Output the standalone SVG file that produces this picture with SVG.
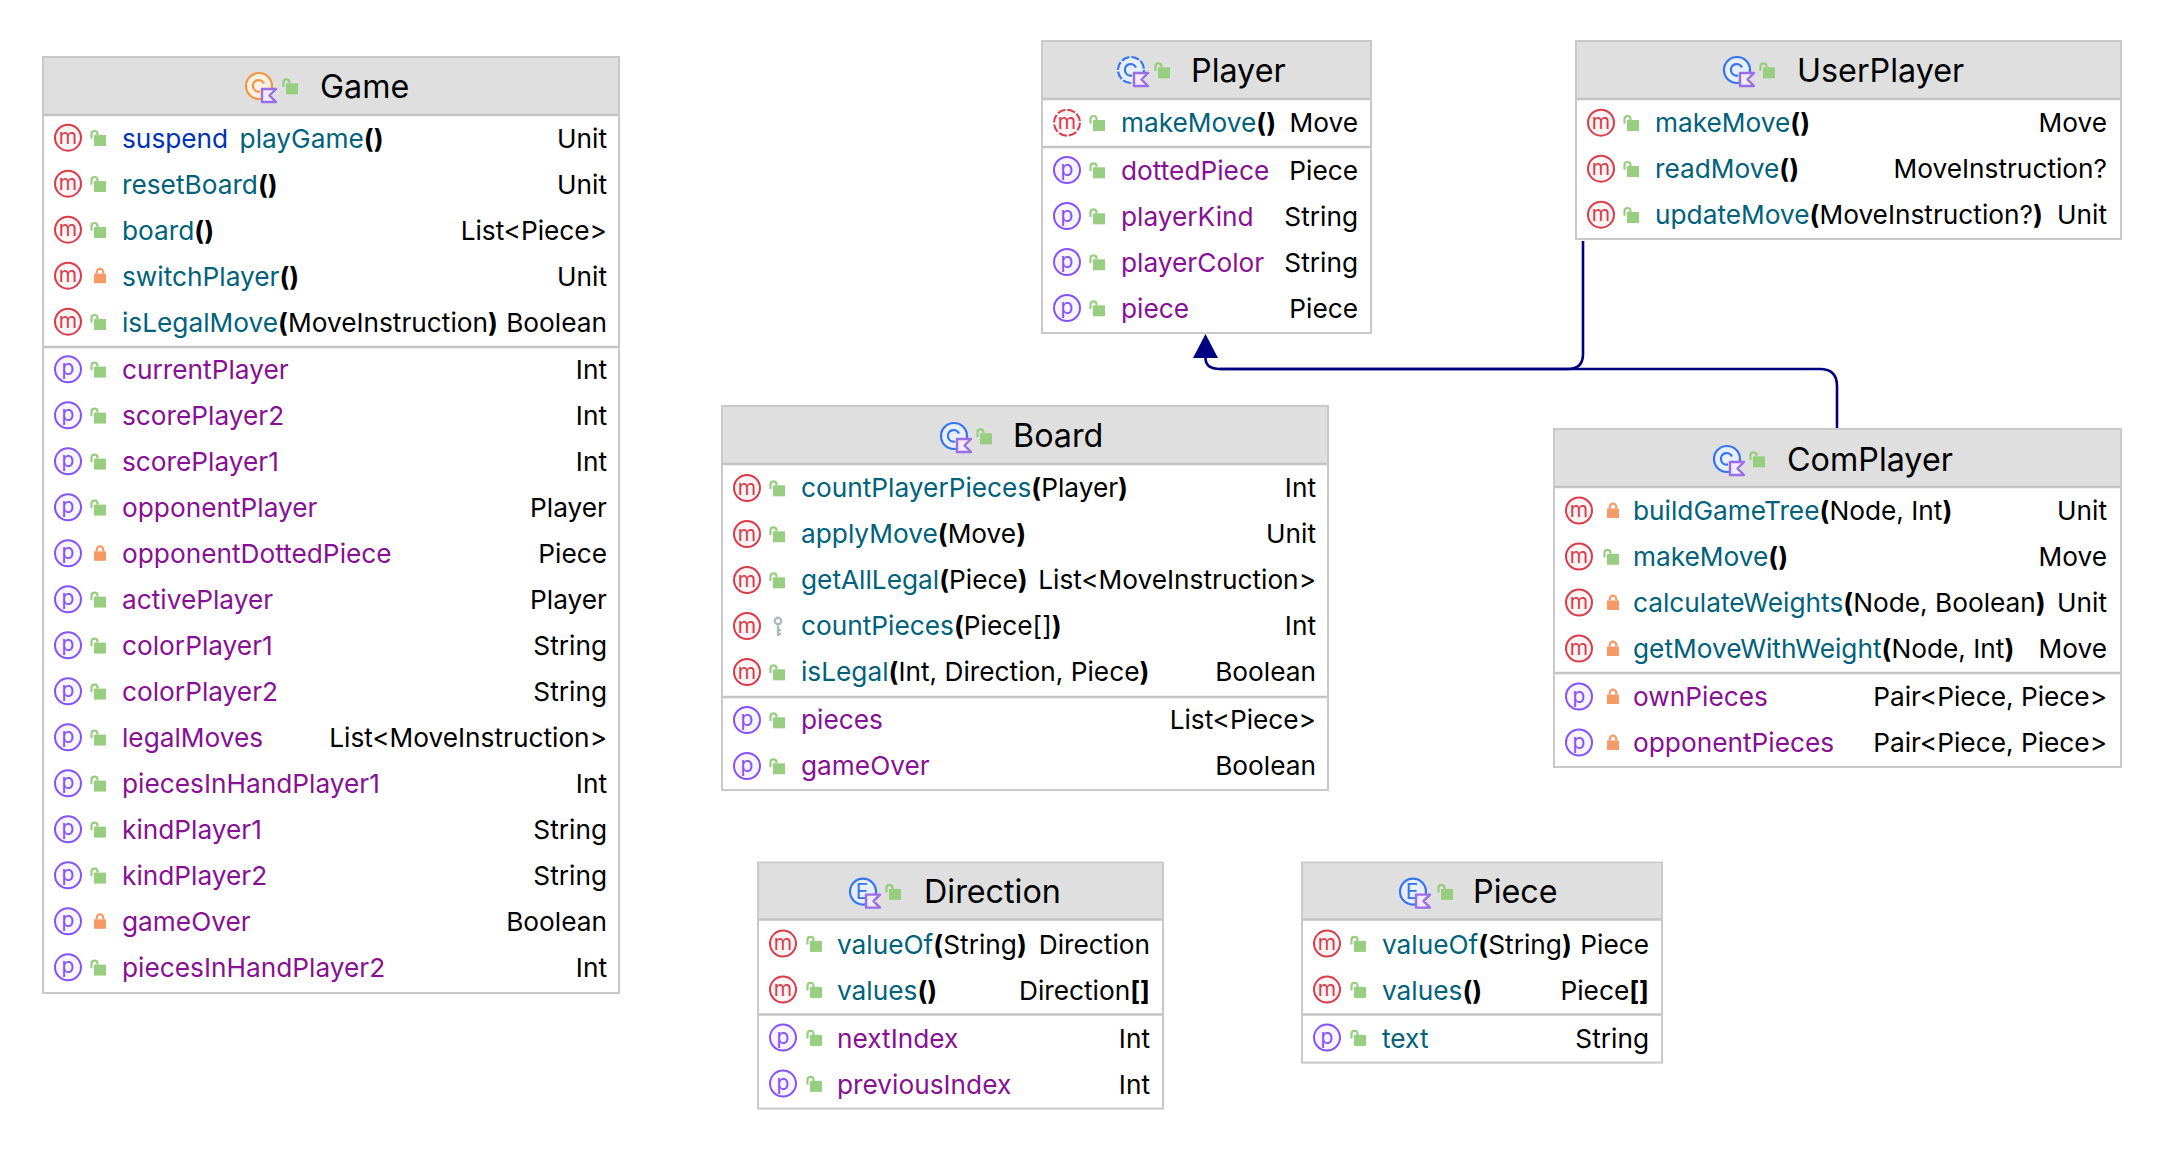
<svg xmlns="http://www.w3.org/2000/svg" xmlns:xlink="http://www.w3.org/1999/xlink" width="2162" height="1152" viewBox="0 0 2162 1152">
<style>
text{font-family:Inter,"Liberation Sans",sans-serif;font-size:26.25px;fill:#000}
.t{font-size:32.3px}
.n{fill:#00627A}.p{fill:#871094}.k{fill:#0033B3}
.b{font-weight:700}
.r{text-anchor:end}
.box{fill:#fff;stroke:#C9C9C9;stroke-width:2}
.hd{fill:#DFDFDF}
.ln{stroke:#C4C4C4;stroke-width:2.5}
.ic{font-size:21px;text-anchor:middle}
.con{fill:none;stroke:#000080;stroke-width:2.6}
</style>
<defs>
<g id="m"><circle r="13" fill="#FFF5F5" stroke="#DB3B4B" stroke-width="2"/><text class="ic" y="6.5" style="fill:#DB3B4B">m</text></g>
<g id="ma"><circle r="13" fill="#FFF5F5" stroke="#DB3B4B" stroke-width="2" stroke-dasharray="8.2 2"/><text class="ic" y="6.5" style="fill:#DB3B4B">m</text></g>
<g id="pr"><circle r="13" fill="#F8F5FF" stroke="#8452FF" stroke-width="2"/><text class="ic" y="6" style="fill:#8452FF">p</text></g>
<g id="lo"><rect x="-4" y="-2.7" width="12" height="11" fill="#97CE7F"/><path d="M-6.500 1V-3.700a3 3 0 0 1 6 0v1" fill="none" stroke="#97CE7F" stroke-width="2.200"/></g>
<g id="lc"><rect x="-4" y="-2" width="12" height="9.5" fill="#F79A66"/><path d="M-1.200-2V-3.700a3.200 3.200 0 0 1 6.400 0V-2" fill="none" stroke="#F79A66" stroke-width="2.200"/></g>
<g id="ky"><circle cx="1" cy="-5" r="3.2" fill="none" stroke="#AEB9C0" stroke-width="2.4"/><path d="M1-2V10M1 4h3M1 8h3" fill="none" stroke="#AEB9C0" stroke-width="2.4"/></g>
<g id="kb"><path d="M3 3H17L10.500 9.500 17 16H3Z" fill="#F3ECFF" stroke="#9B6EE8" stroke-width="2.4" stroke-linejoin="round"/></g>
<g id="cg"><circle r="13" fill="#FDF1E4" stroke="#F2963F" stroke-width="2.2"/><path d="M5-2.500A5.800 5.800 0 1 0 1 5.500" fill="none" stroke="#F2963F" stroke-width="2.2"/><use href="#kb"/></g>
<g id="cb"><circle r="13" fill="#E7EFFD" stroke="#3574F0" stroke-width="2.2"/><path d="M5-2.500A5.800 5.800 0 1 0 1 5.500" fill="none" stroke="#3574F0" stroke-width="2.2"/><use href="#kb"/></g>
<g id="cd"><circle r="13" fill="#E7EFFD" stroke="#3574F0" stroke-width="2.2" stroke-dasharray="8.2 2"/><path d="M5-2.500A5.800 5.800 0 1 0 1 5.500" fill="none" stroke="#3574F0" stroke-width="2.2"/><use href="#kb"/></g>
<g id="ce"><circle r="13" fill="#E7EFFD" stroke="#3574F0" stroke-width="2.2"/><text class="ic" x="-1" y="7" style="fill:#3574F0">E</text><use href="#kb"/></g>
</defs>

<g id="connectors">
<path class="con" d="M1583 241V354Q1583 369 1568 369H1220Q1205.500 369 1205.500 358"/>
<path class="con" d="M1837 428V386Q1837 369 1820 369H1220"/>
<path d="M1205.500 334L1218 358H1193Z" fill="#000080"/>
</g>

<g id="Game">
<rect class="box" x="43" y="57" width="576" height="936"/><rect class="hd" x="44" y="58" width="574" height="57"/><path class="ln" d="M44 115H618M44 347H618"/>
<use href="#cg" x="259" y="86"/><use href="#lo" x="290" y="86"/><text class="t" x="320" y="97.800">Game</text>
<use href="#m" x="68" y="137.700"/><use href="#lo" x="98" y="137.700"/><text x="122" y="148"><tspan class="k">suspend </tspan><tspan class="n" dx="4">playGame</tspan><tspan class="b">()</tspan></text><text class="r" x="607" y="148">Unit</text>
<use href="#m" x="68" y="183.700"/><use href="#lo" x="98" y="183.700"/><text x="122" y="194"><tspan class="n">resetBoard</tspan><tspan class="b">()</tspan></text><text class="r" x="607" y="194">Unit</text>
<use href="#m" x="68" y="229.700"/><use href="#lo" x="98" y="229.700"/><text x="122" y="240"><tspan class="n">board</tspan><tspan class="b">()</tspan></text><text class="r" x="607" y="240">List&lt;Piece&gt;</text>
<use href="#m" x="68" y="275.700"/><use href="#lc" x="98" y="275.700"/><text x="122" y="286"><tspan class="n">switchPlayer</tspan><tspan class="b">()</tspan></text><text class="r" x="607" y="286">Unit</text>
<use href="#m" x="68" y="321.700"/><use href="#lo" x="98" y="321.700"/><text x="122" y="332"><tspan class="n">isLegalMove</tspan><tspan class="b">(</tspan>MoveInstruction<tspan class="b">)</tspan></text><text class="r" x="607" y="332">Boolean</text>
<use href="#pr" x="68" y="369.300"/><use href="#lo" x="98" y="369.300"/><text class="p" x="122" y="379">currentPlayer</text><text class="r" x="607" y="379">Int</text>
<use href="#pr" x="68" y="415.300"/><use href="#lo" x="98" y="415.300"/><text class="p" x="122" y="425">scorePlayer2</text><text class="r" x="607" y="425">Int</text>
<use href="#pr" x="68" y="461.300"/><use href="#lo" x="98" y="461.300"/><text class="p" x="122" y="471">scorePlayer1</text><text class="r" x="607" y="471">Int</text>
<use href="#pr" x="68" y="507.300"/><use href="#lo" x="98" y="507.300"/><text class="p" x="122" y="517">opponentPlayer</text><text class="r" x="607" y="517">Player</text>
<use href="#pr" x="68" y="553.300"/><use href="#lc" x="98" y="553.300"/><text class="p" x="122" y="563">opponentDottedPiece</text><text class="r" x="607" y="563">Piece</text>
<use href="#pr" x="68" y="599.300"/><use href="#lo" x="98" y="599.300"/><text class="p" x="122" y="609">activePlayer</text><text class="r" x="607" y="609">Player</text>
<use href="#pr" x="68" y="645.300"/><use href="#lo" x="98" y="645.300"/><text class="p" x="122" y="655">colorPlayer1</text><text class="r" x="607" y="655">String</text>
<use href="#pr" x="68" y="691.300"/><use href="#lo" x="98" y="691.300"/><text class="p" x="122" y="701">colorPlayer2</text><text class="r" x="607" y="701">String</text>
<use href="#pr" x="68" y="737.300"/><use href="#lo" x="98" y="737.300"/><text class="p" x="122" y="747">legalMoves</text><text class="r" x="607" y="747">List&lt;MoveInstruction&gt;</text>
<use href="#pr" x="68" y="783.300"/><use href="#lo" x="98" y="783.300"/><text class="p" x="122" y="793">piecesInHandPlayer1</text><text class="r" x="607" y="793">Int</text>
<use href="#pr" x="68" y="829.300"/><use href="#lo" x="98" y="829.300"/><text class="p" x="122" y="839">kindPlayer1</text><text class="r" x="607" y="839">String</text>
<use href="#pr" x="68" y="875.300"/><use href="#lo" x="98" y="875.300"/><text class="p" x="122" y="885">kindPlayer2</text><text class="r" x="607" y="885">String</text>
<use href="#pr" x="68" y="921.300"/><use href="#lc" x="98" y="921.300"/><text class="p" x="122" y="931">gameOver</text><text class="r" x="607" y="931">Boolean</text>
<use href="#pr" x="68" y="967.300"/><use href="#lo" x="98" y="967.300"/><text class="p" x="122" y="977">piecesInHandPlayer2</text><text class="r" x="607" y="977">Int</text>
</g>

<g id="Player">
<rect class="box" x="1042" y="41" width="329" height="292"/><rect class="hd" x="1043" y="42" width="327" height="57"/><path class="ln" d="M1043 99H1370M1043 147H1370"/>
<use href="#cd" x="1131" y="70"/><use href="#lo" x="1162" y="70"/><text class="t" x="1191" y="81.700">Player</text>
<use href="#ma" x="1067" y="122.700"/><use href="#lo" x="1097" y="122.700"/><text x="1121" y="132.300"><tspan class="n">makeMove</tspan><tspan class="b">()</tspan></text><text class="r" x="1358" y="132.300">Move</text>
<use href="#pr" x="1067" y="170"/><use href="#lo" x="1097" y="170"/><text class="p" x="1121" y="179.600">dottedPiece</text><text class="r" x="1358" y="179.600">Piece</text>
<use href="#pr" x="1067" y="216"/><use href="#lo" x="1097" y="216"/><text class="p" x="1121" y="225.600">playerKind</text><text class="r" x="1358" y="225.600">String</text>
<use href="#pr" x="1067" y="262"/><use href="#lo" x="1097" y="262"/><text class="p" x="1121" y="271.600">playerColor</text><text class="r" x="1358" y="271.600">String</text>
<use href="#pr" x="1067" y="308"/><use href="#lo" x="1097" y="308"/><text class="p" x="1121" y="317.600">piece</text><text class="r" x="1358" y="317.600">Piece</text>
</g>

<g id="UserPlayer">
<rect class="box" x="1576" y="41" width="545" height="198"/><rect class="hd" x="1577" y="42" width="543" height="57"/><path class="ln" d="M1577 99H2120"/>
<use href="#cb" x="1737" y="70"/><use href="#lo" x="1767" y="70"/><text class="t" x="1797" y="81.700">UserPlayer</text>
<use href="#m" x="1601" y="122.700"/><use href="#lo" x="1631" y="122.700"/><text x="1655" y="132.300"><tspan class="n">makeMove</tspan><tspan class="b">()</tspan></text><text class="r" x="2107" y="132.300">Move</text>
<use href="#m" x="1601" y="168.700"/><use href="#lo" x="1631" y="168.700"/><text x="1655" y="178.300"><tspan class="n">readMove</tspan><tspan class="b">()</tspan></text><text class="r" x="2107" y="178.300">MoveInstruction?</text>
<use href="#m" x="1601" y="214.700"/><use href="#lo" x="1631" y="214.700"/><text x="1655" y="224.300"><tspan class="n">updateMove</tspan><tspan class="b">(</tspan>MoveInstruction?<tspan class="b">)</tspan></text><text class="r" x="2107" y="224.300">Unit</text>
</g>

<g id="ComPlayer">
<rect class="box" x="1554" y="429" width="567" height="338"/><rect class="hd" x="1555" y="430" width="565" height="57"/><path class="ln" d="M1555 487H2120M1555 673H2120"/>
<use href="#cb" x="1727" y="459"/><use href="#lo" x="1757" y="459"/><text class="t" x="1787" y="470.700">ComPlayer</text>
<use href="#m" x="1579" y="510.500"/><use href="#lc" x="1611" y="510.500"/><text x="1633" y="520.100"><tspan class="n">buildGameTree</tspan><tspan class="b">(</tspan>Node, Int<tspan class="b">)</tspan></text><text class="r" x="2107" y="520.100">Unit</text>
<use href="#m" x="1579" y="556.500"/><use href="#lo" x="1611" y="556.500"/><text x="1633" y="566.100"><tspan class="n">makeMove</tspan><tspan class="b">()</tspan></text><text class="r" x="2107" y="566.100">Move</text>
<use href="#m" x="1579" y="602.500"/><use href="#lc" x="1611" y="602.500"/><text x="1633" y="612.100"><tspan class="n">calculateWeights</tspan><tspan class="b">(</tspan>Node, Boolean<tspan class="b">)</tspan></text><text class="r" x="2107" y="612.100">Unit</text>
<use href="#m" x="1579" y="648.500"/><use href="#lc" x="1611" y="648.500"/><text x="1633" y="658.100"><tspan class="n">getMoveWithWeight</tspan><tspan class="b">(</tspan>Node, Int<tspan class="b">)</tspan></text><text class="r" x="2107" y="658.100">Move</text>
<use href="#pr" x="1579" y="696.500"/><use href="#lc" x="1611" y="696.500"/><text class="p" x="1633" y="706.100">ownPieces</text><text class="r" x="2107" y="706.100">Pair&lt;Piece, Piece&gt;</text>
<use href="#pr" x="1579" y="742.500"/><use href="#lc" x="1611" y="742.500"/><text class="p" x="1633" y="752.100">opponentPieces</text><text class="r" x="2107" y="752.100">Pair&lt;Piece, Piece&gt;</text>
</g>

<g id="Board">
<rect class="box" x="722" y="406" width="606" height="384"/><rect class="hd" x="723" y="407" width="604" height="57"/><path class="ln" d="M723 464H1327M723 697H1327"/>
<use href="#cb" x="954" y="436"/><use href="#lo" x="984" y="436"/><text class="t" x="1013" y="447.200">Board</text>
<use href="#m" x="747" y="488"/><use href="#lo" x="777" y="488"/><text x="801" y="497.300"><tspan class="n">countPlayerPieces</tspan><tspan class="b">(</tspan>Player<tspan class="b">)</tspan></text><text class="r" x="1316" y="497.300">Int</text>
<use href="#m" x="747" y="534"/><use href="#lo" x="777" y="534"/><text x="801" y="543.300"><tspan class="n">applyMove</tspan><tspan class="b">(</tspan>Move<tspan class="b">)</tspan></text><text class="r" x="1316" y="543.300">Unit</text>
<use href="#m" x="747" y="580"/><use href="#lo" x="777" y="580"/><text x="801" y="589.300"><tspan class="n">getAllLegal</tspan><tspan class="b">(</tspan>Piece<tspan class="b">)</tspan></text><text class="r" x="1316" y="589.300">List&lt;MoveInstruction&gt;</text>
<use href="#m" x="747" y="626"/><use href="#ky" x="777" y="626"/><text x="801" y="635.300"><tspan class="n">countPieces</tspan><tspan class="b">(</tspan>Piece[]<tspan class="b">)</tspan></text><text class="r" x="1316" y="635.300">Int</text>
<use href="#m" x="747" y="672"/><use href="#lo" x="777" y="672"/><text x="801" y="681.300"><tspan class="n">isLegal</tspan><tspan class="b">(</tspan>Int, Direction, Piece<tspan class="b">)</tspan></text><text class="r" x="1316" y="681.300">Boolean</text>
<use href="#pr" x="747" y="720"/><use href="#lo" x="777" y="720"/><text class="p" x="801" y="729.300">pieces</text><text class="r" x="1316" y="729.300">List&lt;Piece&gt;</text>
<use href="#pr" x="747" y="766"/><use href="#lo" x="777" y="766"/><text class="p" x="801" y="775.300">gameOver</text><text class="r" x="1316" y="775.300">Boolean</text>
</g>

<g id="Direction" transform="translate(0 -1.4)">
<rect class="box" x="758" y="864" width="405" height="246"/><rect class="hd" x="759" y="865" width="403" height="56"/><path class="ln" d="M759 921H1162M759 1016H1162"/>
<use href="#ce" x="863" y="893"/><use href="#lo" x="893" y="893"/><text class="t" x="924" y="904.700">Direction</text>
<use href="#m" x="783" y="945"/><use href="#lo" x="814" y="945"/><text x="837" y="955.200"><tspan class="n">valueOf</tspan><tspan class="b">(</tspan>String<tspan class="b">)</tspan></text><text class="r" x="1150" y="955.200">Direction</text>
<use href="#m" x="783" y="991"/><use href="#lo" x="814" y="991"/><text x="837" y="1001.200"><tspan class="n">values</tspan><tspan class="b">()</tspan></text><text class="r" x="1150" y="1001.200">Direction<tspan class="b">[]</tspan></text>
<use href="#pr" x="783" y="1039"/><use href="#lo" x="814" y="1039"/><text class="p" x="837" y="1049.200">nextIndex</text><text class="r" x="1150" y="1049.200">Int</text>
<use href="#pr" x="783" y="1085"/><use href="#lo" x="814" y="1085"/><text class="p" x="837" y="1095.200">previousIndex</text><text class="r" x="1150" y="1095.200">Int</text>
</g>

<g id="Piece" transform="translate(0 -1.4)">
<rect class="box" x="1302" y="864" width="360" height="200"/><rect class="hd" x="1303" y="865" width="358" height="56"/><path class="ln" d="M1303 921H1661M1303 1016H1661"/>
<use href="#ce" x="1413" y="893"/><use href="#lo" x="1445" y="893"/><text class="t" x="1473" y="904.700">Piece</text>
<use href="#m" x="1327" y="945"/><use href="#lo" x="1358" y="945"/><text x="1382" y="955.200"><tspan class="n">valueOf</tspan><tspan class="b">(</tspan>String<tspan class="b">)</tspan></text><text class="r" x="1649" y="955.200">Piece</text>
<use href="#m" x="1327" y="991"/><use href="#lo" x="1358" y="991"/><text x="1382" y="1001.200"><tspan class="n">values</tspan><tspan class="b">()</tspan></text><text class="r" x="1649" y="1001.200">Piece<tspan class="b">[]</tspan></text>
<use href="#pr" x="1327" y="1039"/><use href="#lo" x="1358" y="1039"/><text class="n" x="1382" y="1049.200">text</text><text class="r" x="1649" y="1049.200">String</text>
</g>
</svg>
